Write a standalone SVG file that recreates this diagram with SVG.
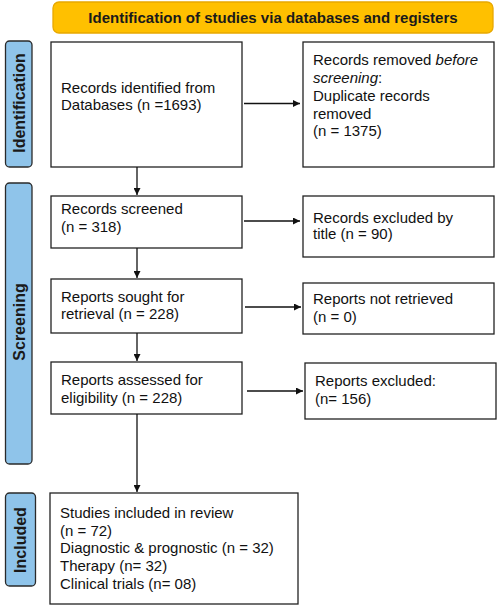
<svg xmlns="http://www.w3.org/2000/svg" width="498" height="606" viewBox="0 0 498 606">
<style>
.box{fill:#fff;stroke:#222;stroke-width:1.3}
.tab{fill:#8fc4ea;stroke:#2a2a2a;stroke-width:1.3}
.t{font-family:"Liberation Sans",Arial,sans-serif;font-size:15px;fill:#111}
.tl{font-family:"Liberation Sans",Arial,sans-serif;font-size:16px;font-weight:bold;fill:#1a1a1a}
.ban{font-family:"Liberation Sans",Arial,sans-serif;font-size:15px;font-weight:bold;fill:#1a1a1a}
.c{stroke:#111;stroke-width:1.3;fill:none;marker-end:url(#ah)}
</style>
<defs>
<marker id="ah" viewBox="0 0 10 10" refX="10" refY="5" markerWidth="7" markerHeight="7" markerUnits="userSpaceOnUse" orient="auto">
<path d="M0,0 L10,5 L0,10 z" fill="#111"/>
</marker>
</defs>
<rect width="498" height="606" fill="#fff"/>
<g id="banner">
<rect x="53" y="2" width="440" height="31" rx="6" fill="#ffc000" stroke="#e8a800" stroke-width="1.3"/>
<text class="ban" x="273" y="22.5" text-anchor="middle">Identification of studies via databases and registers</text>
</g>
<g id="tab-identification">
<rect class="tab" x="5.5" y="41" width="26.5" height="126" rx="4"/>
<text class="tl" transform="translate(24.5,103) rotate(-90)" text-anchor="middle">Identification</text>
</g>
<g id="tab-screening">
<rect class="tab" x="5.5" y="183" width="26.5" height="281" rx="4"/>
<text class="tl" transform="translate(24.5,322) rotate(-90)" text-anchor="middle">Screening</text>
</g>
<g id="tab-included">
<rect class="tab" x="5.5" y="493" width="30" height="93" rx="4"/>
<text class="tl" transform="translate(26,540) rotate(-90)" text-anchor="middle">Included</text>
</g>
<g id="n-identified">
<rect class="box" x="51" y="42" width="191" height="125"/>
<text class="t" x="61" y="93">Records identified from</text>
<text class="t" x="61" y="110">Databases (n =1693)</text>
</g>
<g id="n-removed">
<rect class="box" x="303" y="42" width="191" height="125"/>
<text class="t" x="313" y="65">Records removed <tspan font-style="italic">before</tspan></text>
<text class="t" x="313" y="83"><tspan font-style="italic">screening</tspan>:</text>
<text class="t" x="313" y="101">Duplicate records</text>
<text class="t" x="313" y="119">removed</text>
<text class="t" x="313" y="136">(n = 1375)</text>
</g>
<g id="n-screened">
<rect class="box" x="51" y="196" width="191" height="52"/>
<text class="t" x="61" y="214">Records screened</text>
<text class="t" x="61" y="232">(n = 318)</text>
</g>
<g id="n-excluded-title">
<rect class="box" x="303" y="196" width="191" height="61"/>
<text class="t" x="313" y="223">Records excluded by</text>
<text class="t" x="313" y="239">title (n = 90)</text>
</g>
<g id="n-sought">
<rect class="box" x="51" y="279" width="191" height="54"/>
<text class="t" x="61" y="302">Reports sought for</text>
<text class="t" x="61" y="319">retrieval (n = 228)</text>
</g>
<g id="n-not-retrieved">
<rect class="box" x="303" y="283" width="191" height="51"/>
<text class="t" x="313" y="304">Reports not retrieved</text>
<text class="t" x="313" y="322">(n = 0)</text>
</g>
<g id="n-assessed">
<rect class="box" x="51" y="362" width="191" height="52"/>
<text class="t" x="61" y="385">Reports assessed for</text>
<text class="t" x="61" y="403">eligibility (n = 228)</text>
</g>
<g id="n-excluded">
<rect class="box" x="305" y="363" width="191" height="56"/>
<text class="t" x="315" y="386">Reports excluded:</text>
<text class="t" x="315" y="404">(n= 156)</text>
</g>
<g id="n-included">
<rect class="box" x="50" y="493" width="248" height="111"/>
<text class="t" x="60" y="518">Studies included in review</text>
<text class="t" x="60" y="536">(n = 72)</text>
<text class="t" x="60" y="553">Diagnostic &amp; prognostic (n = 32)</text>
<text class="t" x="60" y="571">Therapy (n= 32)</text>
<text class="t" x="60" y="589">Clinical trials (n= 08)</text>
</g>
<g id="connectors">
<path class="c" d="M244,103.5 H300"/>
<path class="c" d="M137,167 V195"/>
<path class="c" d="M244,221 H300"/>
<path class="c" d="M137,248 V278"/>
<path class="c" d="M245,307 H301"/>
<path class="c" d="M137,333 V361"/>
<path class="c" d="M247,391 H303"/>
<path class="c" d="M137,414 V492"/>
</g>
</svg>
